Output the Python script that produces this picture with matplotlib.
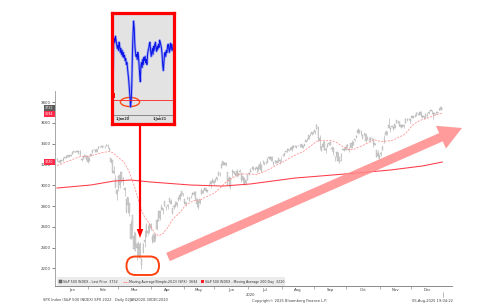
import numpy as np
import pandas as pd
import matplotlib.pyplot as plt
import matplotlib.transforms as mtransforms
from matplotlib.patches import Rectangle, Ellipse, FancyBboxPatch, FancyArrow

# SPX daily candles, 02JAN2020 - 30DEC2020 (one list per month row)
opens = [
    3245, 3226, 3218, 3242, 3238, 3266, 3281, 3271, 3286, 3283, 3302, 3323, 3321, 3330, 3315, 3334, 3248, 3255, 3290, 3256, 3282,
    3236, 3281, 3324, 3344, 3335, 3319, 3365, 3371, 3366, 3378, 3369, 3380, 3380, 3360, 3258, 3238, 3140, 3063, 2916,
    2974, 3096, 3046, 3075, 2954, 2863, 2813, 2825, 2631, 2569, 2509, 2426, 2437, 2394, 2431, 2291, 2345, 2458, 2501, 2556, 2559, 2614,
    2499, 2458, 2514, 2578, 2738, 2686, 2776, 2783, 2805, 2796, 2812, 2843, 2846, 2785, 2787, 2810, 2812, 2855, 2910, 2901, 2930,
    2869, 2815, 2869, 2884, 2879, 2909, 2915, 2939, 2866, 2795, 2830, 2914, 2948, 2953, 2970, 2949, 3005, 3015, 3046, 3025,
    3038, 3064, 3098, 3112, 3163, 3199, 3213, 3213, 3123, 3072, 2994, 3132, 3137, 3102, 3141, 3095, 3138, 3114, 3047, 3074, 3018, 3050,
    3105, 3143, 3156, 3166, 3154, 3177, 3152, 3205, 3141, 3226, 3209, 3225, 3224, 3268, 3255, 3272, 3219, 3219, 3235, 3227, 3232, 3270,
    3289, 3289, 3318, 3324, 3340, 3356, 3370, 3356, 3373, 3368, 3380, 3388, 3392, 3360, 3386, 3418, 3435, 3449, 3486, 3494, 3509,
    3507, 3543, 3564, 3453, 3371, 3369, 3412, 3353, 3363, 3407, 3411, 3347, 3357, 3285, 3296, 3320, 3226, 3236, 3334, 3350, 3341,
    3385, 3339, 3368, 3409, 3385, 3434, 3459, 3500, 3534, 3516, 3453, 3493, 3494, 3440, 3439, 3439, 3464, 3441, 3404, 3343, 3278, 3293,
    3296, 3336, 3406, 3485, 3508, 3583, 3543, 3564, 3563, 3553, 3601, 3611, 3612, 3560, 3579, 3566, 3594, 3635, 3638, 3634,
    3645, 3653, 3668, 3671, 3695, 3683, 3706, 3659, 3656, 3676, 3667, 3696, 3714, 3723, 3685, 3698, 3693, 3694, 3723, 3751, 3736,
]
highs = [
    3258, 3246, 3247, 3245, 3267, 3275, 3282, 3288, 3295, 3298, 3317, 3330, 3329, 3337, 3326, 3338, 3258, 3285, 3293, 3285, 3282,
    3268, 3306, 3337, 3347, 3341, 3352, 3375, 3381, 3385, 3381, 3376, 3394, 3393, 3360, 3259, 3247, 3183, 3098, 2960,
    3091, 3137, 3131, 3083, 2985, 2863, 2883, 2825, 2661, 2711, 2562, 2553, 2453, 2467, 2453, 2300, 2449, 2572, 2638, 2616, 2632, 2641,
    2523, 2534, 2538, 2677, 2757, 2761, 2819, 2783, 2851, 2801, 2815, 2880, 2868, 2785, 2815, 2845, 2842, 2887, 2921, 2945, 2930,
    2869, 2843, 2898, 2891, 2902, 2932, 2944, 2945, 2875, 2852, 2865, 2969, 2965, 2980, 2978, 2957, 3021, 3036, 3068, 3050,
    3063, 3082, 3131, 3128, 3212, 3233, 3223, 3223, 3123, 3089, 3079, 3154, 3141, 3121, 3156, 3119, 3155, 3116, 3087, 3074, 3054, 3112,
    3129, 3166, 3183, 3184, 3172, 3179, 3186, 3236, 3200, 3239, 3221, 3234, 3259, 3278, 3278, 3280, 3228, 3242, 3243, 3264, 3251, 3272,
    3303, 3307, 3330, 3352, 3353, 3364, 3382, 3387, 3387, 3378, 3388, 3395, 3399, 3390, 3400, 3432, 3444, 3481, 3501, 3510, 3514,
    3529, 3588, 3565, 3479, 3379, 3425, 3426, 3368, 3402, 3420, 3428, 3376, 3363, 3285, 3321, 3324, 3279, 3307, 3361, 3358, 3393,
    3397, 3369, 3410, 3432, 3426, 3447, 3482, 3550, 3534, 3527, 3490, 3515, 3503, 3477, 3465, 3461, 3466, 3441, 3410, 3343, 3341, 3305,
    3330, 3389, 3486, 3529, 3521, 3646, 3557, 3582, 3570, 3593, 3629, 3624, 3620, 3586, 3582, 3590, 3643, 3644, 3644, 3634,
    3678, 3670, 3683, 3700, 3697, 3708, 3712, 3678, 3665, 3698, 3695, 3711, 3726, 3726, 3702, 3698, 3711, 3703, 3740, 3757, 3744,
]
lows = [
    3235, 3223, 3215, 3232, 3236, 3263, 3260, 3268, 3276, 3280, 3302, 3318, 3317, 3321, 3301, 3283, 3234, 3253, 3272, 3242, 3214,
    3236, 3281, 3313, 3334, 3322, 3317, 3352, 3369, 3360, 3366, 3356, 3379, 3354, 3328, 3214, 3119, 3108, 2977, 2856,
    2946, 2977, 3034, 2999, 2901, 2735, 2734, 2707, 2479, 2492, 2380, 2367, 2281, 2320, 2296, 2192, 2345, 2407, 2501, 2521, 2543, 2572,
    2447, 2455, 2460, 2574, 2657, 2664, 2762, 2722, 2805, 2761, 2776, 2843, 2820, 2727, 2775, 2792, 2791, 2852, 2861, 2893, 2892,
    2821, 2798, 2863, 2848, 2873, 2908, 2904, 2869, 2794, 2767, 2822, 2914, 2921, 2953, 2939, 2934, 2988, 2970, 3023, 2998,
    3032, 3052, 3091, 3090, 3163, 3196, 3193, 3181, 2999, 2984, 2965, 3077, 3109, 3093, 3083, 3084, 3127, 3033, 3024, 3006, 2999, 3048,
    3102, 3125, 3156, 3142, 3144, 3115, 3136, 3150, 3127, 3201, 3198, 3208, 3214, 3248, 3250, 3229, 3198, 3215, 3216, 3227, 3205, 3220,
    3285, 3283, 3317, 3315, 3328, 3335, 3326, 3356, 3363, 3362, 3374, 3370, 3369, 3354, 3379, 3413, 3425, 3445, 3469, 3484, 3494,
    3493, 3536, 3427, 3350, 3329, 3369, 3335, 3310, 3363, 3389, 3384, 3328, 3293, 3229, 3271, 3232, 3210, 3229, 3334, 3327, 3341,
    3362, 3323, 3368, 3354, 3385, 3428, 3458, 3496, 3500, 3480, 3440, 3484, 3420, 3435, 3433, 3415, 3441, 3365, 3388, 3268, 3259, 3234,
    3279, 3336, 3406, 3485, 3484, 3548, 3511, 3563, 3527, 3553, 3601, 3595, 3567, 3553, 3556, 3553, 3594, 3620, 3630, 3594,
    3645, 3644, 3658, 3668, 3679, 3678, 3660, 3645, 3634, 3644, 3660, 3685, 3711, 3685, 3636, 3676, 3690, 3690, 3723, 3720, 3730,
]
closes = [
    3258, 3235, 3246, 3237, 3253, 3275, 3265, 3288, 3283, 3289, 3317, 3330, 3321, 3322, 3326, 3295, 3244, 3276, 3273, 3284, 3226,
    3249, 3298, 3335, 3346, 3328, 3352, 3358, 3379, 3374, 3380, 3370, 3386, 3373, 3338, 3226, 3128, 3116, 2979, 2954,
    3090, 3003, 3130, 3024, 2972, 2747, 2882, 2741, 2481, 2711, 2386, 2529, 2398, 2409, 2305, 2237, 2447, 2476, 2630, 2541, 2627, 2585,
    2471, 2527, 2489, 2664, 2659, 2750, 2790, 2762, 2846, 2783, 2800, 2875, 2823, 2737, 2799, 2798, 2837, 2878, 2863, 2940, 2912,
    2831, 2843, 2868, 2848, 2881, 2930, 2930, 2870, 2820, 2853, 2864, 2954, 2923, 2972, 2949, 2955, 2992, 3036, 3030, 3044,
    3056, 3081, 3123, 3112, 3194, 3232, 3207, 3190, 3002, 3041, 3067, 3125, 3113, 3115, 3098, 3118, 3131, 3050, 3084, 3009, 3053, 3100,
    3116, 3130, 3180, 3145, 3170, 3152, 3185, 3155, 3198, 3227, 3216, 3225, 3252, 3257, 3276, 3236, 3216, 3239, 3218, 3258, 3246, 3271,
    3295, 3307, 3328, 3349, 3351, 3360, 3334, 3380, 3373, 3373, 3382, 3390, 3375, 3386, 3397, 3431, 3444, 3479, 3485, 3508, 3500,
    3527, 3581, 3455, 3427, 3332, 3399, 3339, 3341, 3384, 3401, 3385, 3357, 3319, 3281, 3316, 3237, 3247, 3298, 3352, 3335, 3363,
    3381, 3348, 3409, 3361, 3419, 3447, 3477, 3534, 3512, 3489, 3483, 3484, 3427, 3443, 3436, 3453, 3465, 3401, 3391, 3271, 3310, 3270,
    3310, 3369, 3443, 3510, 3509, 3550, 3546, 3573, 3537, 3585, 3627, 3610, 3568, 3582, 3558, 3578, 3635, 3630, 3638, 3622,
    3662, 3669, 3667, 3699, 3692, 3702, 3673, 3668, 3663, 3647, 3695, 3701, 3722, 3709, 3695, 3687, 3690, 3703, 3735, 3727, 3732,
]
# last 19 closes of Dec 2019, so the 20-day average exists from 02JAN2020
closes_dec2019 = [3113, 3117, 3146, 3136, 3133, 3142, 3169, 3169, 3191, 3193,
                  3191, 3205, 3221, 3224, 3223, 3240, 3240, 3221, 3231]

# 200 day moving average (trading day index, value)
ma200_day = [0, 22, 37, 48, 61, 87, 108, 126, 155, 171, 195, 217, 238, 251]
ma200_val = [2973, 3002, 3040, 3050, 3031, 3002, 2992, 3012, 3069, 3088, 3117, 3146, 3185, 3223]

month_names = ["Jan", "Feb", "Mar", "Apr", "May", "Jun", "Jul", "Aug", "Sep", "Oct", "Nov", "Dec"]
month_days = [21, 19, 22, 21, 20, 22, 22, 21, 21, 22, 20, 21]
y_ticks = [2200, 2400, 2600, 2800, 3000, 3200, 3400, 3600, 3800]

last_price = 3732
ma20_last = 3694
ma200_last = 3220

# inset picture: blue series and its red level line (inset units 0-100)
inset_vals = [45, 70, 76, 72, 78, 74, 70, 66, 69, 64, 72, 68, 62, 66, 60, 64, 58, 62, 57, 59,
              54, 56, 50, 52, 46, 40, 34, 26, 18, 8, 14, 30, 60, 80, 93, 86, 70, 62, 58, 60,
              55, 62, 58, 50, 40, 33, 48, 52, 47, 55, 50, 57, 54, 58, 52, 55, 50, 60, 64, 66,
              70, 72, 64, 58, 62, 66, 60, 68, 64, 70, 72, 66, 63, 68, 65, 70, 67, 74, 72, 69,
              66, 60, 50, 44, 52, 60, 62, 58, 64, 62, 68, 70, 66, 62, 68, 71, 64, 70, 66, 64]
inset_level = 15

# ---------------------------------------------------------------
ohlc = pd.DataFrame({"Open": opens, "High": highs, "Low": lows, "Close": closes})
all_close = pd.Series(closes_dec2019 + closes)
ohlc["MA20"] = all_close.rolling(window=20).mean().iloc[len(closes_dec2019):].values
days = np.arange(len(ohlc))

W, H = 499, 308
fig = plt.figure(figsize=(W / 100, H / 100), dpi=100)
fig.patch.set_facecolor("white")


def px_box(x0, y0, x1, y1):
    # pixel box (top-left origin) -> figure fraction
    return [x0 / W, 1 - y1 / H, (x1 - x0) / W, (y1 - y0) / H]


ax = fig.add_axes(px_box(55, 91, 452, 286))

body_lo = np.minimum(ohlc["Open"], ohlc["Close"])
body_h = np.abs(ohlc["Close"] - ohlc["Open"])
ax.vlines(days, ohlc["Low"], ohlc["High"], color="#a6a6a6", linewidth=0.4, zorder=2)
ax.bar(days, body_h, bottom=body_lo, width=0.6, color="#dcdcdc",
       edgecolor="#9a9a9a", linewidth=0.2, zorder=3)

ax.plot(days, ohlc["MA20"], color="#ff9494", linewidth=0.6, dashes=(2.5, 1.5), zorder=4)
ax.plot(ma200_day, ma200_val, color="#ff3a48", linewidth=0.75, zorder=4)

ax.set_xlim(-1.3, 257.3)
ax.set_ylim(2031, 3906)

for s in ["top", "right"]:
    ax.spines[s].set_visible(False)
ax.spines["left"].set_color("#9a9a9a")
ax.spines["bottom"].set_color("#777777")
ax.spines["left"].set_linewidth(0.6)
ax.spines["bottom"].set_linewidth(0.6)

ax.set_yticks(y_ticks)
ax.set_yticklabels([str(v) for v in y_ticks])
ax.tick_params(axis="y", length=2, width=0.5, color="#555555", pad=1,
               labelsize=2.8, labelcolor="#404040")

bounds = np.cumsum([0] + month_days) - 0.5
mids = (bounds[:-1] + bounds[1:]) / 2
ax.set_xticks(mids)
ax.set_xticklabels(month_names)
ax.set_xticks(bounds[1:-1], minor=True)
ax.tick_params(axis="x", which="major", length=0, pad=1.6, labelsize=2.8, labelcolor="#404040")
ax.tick_params(axis="x", which="minor", length=2, width=0.4, color="#777777")
ax.vlines(bounds[-1], -0.03, -0.055, transform=mtransforms.blended_transform_factory(ax.transData, ax.transAxes),
          color="#999999", linewidth=0.5, clip_on=False)

# last value boxes on the price axis
yb = mtransforms.blended_transform_factory(ax.transAxes, ax.transData)
for val, txt, fc in [(last_price + 10, last_price, "#5c5c5c"), (ma20_last - 10, ma20_last, "#ff2a4a"),
                     (ma200_last, ma200_last, "#ff2a4a")]:
    ax.text(-0.003, val, str(txt), transform=yb, ha="right", va="center", fontsize=2.3,
            color="white", bbox=dict(boxstyle="square,pad=0.3", fc=fc, ec="none"), zorder=6)

# legend strip
ax.add_patch(Rectangle((0.005, 0.0), 0.574, 0.045, transform=ax.transAxes,
                       facecolor="#ececec", edgecolor="none", zorder=5))
ax.add_patch(Rectangle((0.009, 0.013), 0.008, 0.02, transform=ax.transAxes,
                       facecolor="#777777", edgecolor="#333333", linewidth=0.3, zorder=6))
ax.text(0.021, 0.023, f"S&P 500 INDEX - Last Price  {last_price}", transform=ax.transAxes,
        fontsize=2.3, va="center", color="#333333", zorder=6)
ax.plot([0.172, 0.184], [0.023, 0.023], transform=ax.transAxes, color="#ff6060",
        linewidth=0.6, dashes=(1.5, 1), zorder=6)
ax.text(0.187, 0.023, f"Moving Average(Simple,20,D) (SPX)  {ma20_last}", transform=ax.transAxes,
        fontsize=2.3, va="center", color="#333333", zorder=6)
ax.add_patch(Rectangle((0.367, 0.013), 0.008, 0.02, transform=ax.transAxes,
                       facecolor="#ff1a2a", edgecolor="none", zorder=6))
ax.text(0.379, 0.023, f"S&P 500 INDEX - Moving Average 200 Day  {ma200_last}", transform=ax.transAxes,
        fontsize=2.3, va="center", color="#333333", zorder=6)

# footer texts
fig.text(250 / W, 1 - 295 / H, "2020", ha="center", va="center", fontsize=2.7, color="#404040")
fig.text(43 / W, 1 - 300 / H, "SPX Index (S&P 500 INDEX) SPX 2022   Daily 02JAN2020-30DEC2020",
         ha="left", va="center", fontsize=2.6, color="#404040")
fig.text(252 / W, 1 - 301 / H, "Copyright\u00a9 2025 Bloomberg Finance L.P.",
         ha="left", va="center", fontsize=2.6, color="#404040")
fig.text(453 / W, 1 - 301 / H, "05-Aug-2025 19:04:22",
         ha="right", va="center", fontsize=2.6, color="#404040")

# annotation layer in pixel coordinates
ov = fig.add_axes([0, 0, 1, 1], zorder=5)
ov.set_xlim(0, W)
ov.set_ylim(H, 0)
ov.axis("off")
ov.patch.set_alpha(0)

ov.add_patch(FancyArrow(168, 257, 294, -129, width=9, head_width=25, head_length=23,
                        length_includes_head=True, color="#ff8a8a", alpha=0.85, linewidth=0))
ov.add_patch(FancyArrow(140, 124, 0, 114, width=2.2, head_width=6.5, head_length=9,
                        length_includes_head=True, color="#ff0000", linewidth=0))
ov.add_patch(FancyBboxPatch((126.5, 256.5), 32.5, 18.5, boxstyle="round,pad=0,rounding_size=9",
                            facecolor="none", edgecolor="#ff4210", linewidth=1.4))

# inset picture
ins = fig.add_axes(px_box(112, 12.5, 174, 124), zorder=6)
ins.set_facecolor("#e3e3e3")
ins.set_xlim(-1.7, 101.7)
ins.set_ylim(-8.9, 101.5)
ins.set_xticks([])
ins.set_yticks([])
for s in ins.spines.values():
    s.set_color("#ff0000")
    s.set_linewidth(2.3)
xi = np.linspace(0, 100, len(inset_vals))
ins.plot(xi, inset_vals, color="#5a6cff", linewidth=1.8, alpha=0.55)
ins.plot(xi, inset_vals, color="#0a14e6", linewidth=0.7)
ins.axhline(inset_level, color="#ff2020", linewidth=0.6)
ins.add_patch(Rectangle((-1.7, 17), 5.5, 5, facecolor="#ff0000", edgecolor="none"))
ins.axhline(0, color="#666666", linewidth=0.5)
ins.vlines([25, 76.7], -1.8, 0, color="#666666", linewidth=0.4)
ins.text(16.7, -4.3, "1.Jan20", ha="center", va="center", fontsize=2.4, fontweight="bold", color="#333333")
ins.text(78.3, -4.3, "1.Jan21", ha="center", va="center", fontsize=2.4, fontweight="bold", color="#333333")
ins.add_patch(Ellipse((28.3, 12.9), 32, 9, facecolor="none", edgecolor="#ff4a1a", linewidth=1.0))

fig.savefig("out.png", dpi=100, facecolor="white")
